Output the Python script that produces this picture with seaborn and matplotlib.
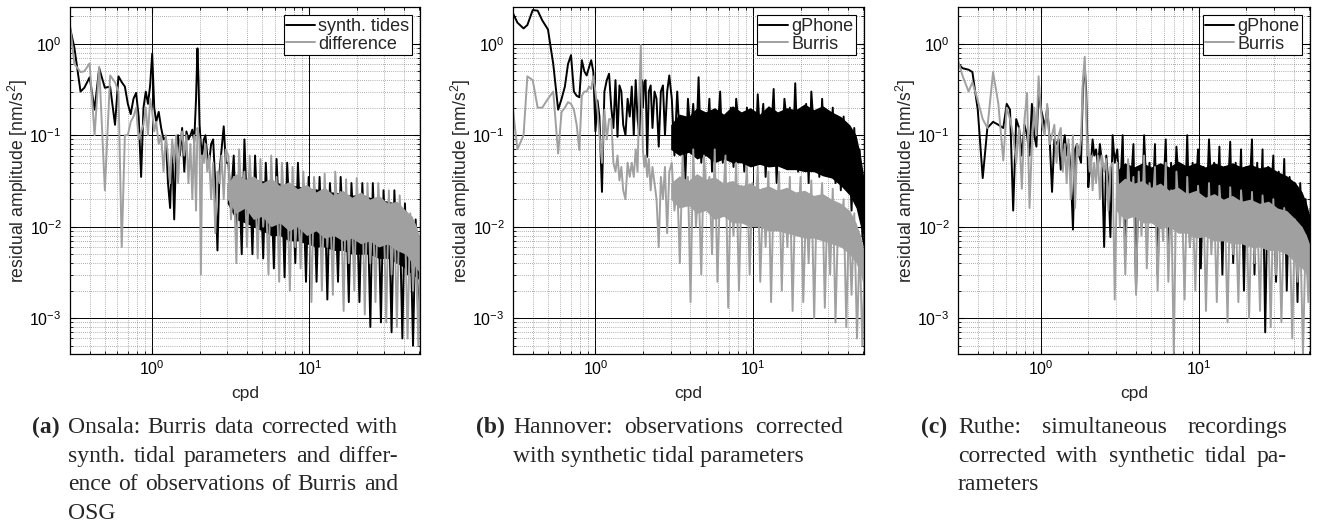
import matplotlib
matplotlib.use("Agg")
import matplotlib.pyplot as plt
import numpy as np
import pandas as pd
import seaborn as sns
from matplotlib.ticker import LogLocator, NullFormatter

# frequency bins [cpd], sparse part and dense part
freq_low = [0.30, 0.32, 0.35, 0.37, 0.40, 0.43, 0.46, 0.50, 0.54, 0.58,
            0.61, 0.64, 0.67, 0.70, 0.73, 0.76, 0.79, 0.82, 0.85, 0.88,
            0.91, 0.94, 0.97, 1.00, 1.03, 1.06, 1.10, 1.14, 1.18, 1.22,
            1.26, 1.30, 1.34, 1.38, 1.42, 1.46, 1.50, 1.55, 1.60, 1.65,
            1.70, 1.75, 1.80, 1.85, 1.90, 1.94, 1.97, 2.00, 2.04, 2.08,
            2.13, 2.18, 2.24, 2.30, 2.37, 2.44, 2.52, 2.60, 2.68, 2.76,
            2.85, 2.94]
freq_high = [3.05, 3.17, 3.30, 3.43, 3.57, 3.71, 3.86, 4.01, 4.17, 4.34,
             4.51, 4.69, 4.88, 5.08, 5.28, 5.49, 5.71, 5.94, 6.18, 6.42,
             6.68, 6.95, 7.22, 7.51, 7.81, 8.13, 8.45, 8.79, 9.14, 9.51,
             9.89, 10.3, 10.7, 11.1, 11.6, 12.0, 12.5, 13.0, 13.5, 14.1,
             14.6, 15.2, 15.8, 16.5, 17.1, 17.8, 18.5, 19.3, 20.0, 20.8,
             21.7, 22.5, 23.4, 24.4, 25.3, 26.3, 27.4, 28.5, 29.6, 30.8,
             32.0, 33.3, 34.7, 36.0, 37.5, 39.0, 40.5, 42.1, 43.8, 45.6,
             47.4, 49.3, 51.0]
freq = freq_low + freq_high

# (a) Onsala  [nm/s^2]
onsala_tides = [1.5, 0.9, 0.30, 0.33, 0.43, 0.19, 0.54, 0.33, 0.34, 0.13,
                0.44, 0.38, 0.34, 0.22, 0.17, 0.25, 0.29, 0.16, 0.035, 0.2,
                0.3, 0.22, 0.35, 0.78, 0.2, 0.14, 0.18, 0.12, 0.09, 0.095,
                0.03, 0.016, 0.08, 0.012, 0.07, 0.1, 0.06, 0.12, 0.04, 0.11,
                0.09, 0.1, 0.115, 0.085, 0.25, 0.89, 0.4, 0.13, 0.08, 0.06,
                0.09, 0.1, 0.06, 0.05, 0.08, 0.09, 0.03, 0.0055, 0.04, 0.07,
                0.125, 0.05] + \
               [0.05, 0.02, 0.06, 0.008, 0.035, 0.005, 0.09, 0.015, 0.04, 0.005,
                0.06, 0.012, 0.035, 0.0045, 0.05, 0.01, 0.03, 0.0035, 0.055, 0.012,
                0.03, 0.0028, 0.05, 0.01, 0.028, 0.004, 0.05, 0.009, 0.025, 0.0025,
                0.035, 0.008, 0.022, 0.0025, 0.035, 0.007, 0.022, 0.0016, 0.03, 0.008,
                0.02, 0.0025, 0.035, 0.007, 0.02, 0.0015, 0.03, 0.007, 0.02, 0.0015,
                0.03, 0.006, 0.02, 0.0008, 0.03, 0.005, 0.018, 0.0009, 0.025, 0.005,
                0.016, 0.0007, 0.025, 0.004, 0.014, 0.0006, 0.018, 0.003, 0.011, 0.0005,
                0.012, 0.0009, 0.004]
onsala_diff = [1.6, 0.6, 0.49, 0.5, 0.61, 0.1, 0.56, 0.025, 0.45, 0.38,
               0.3, 0.006, 0.1, 0.1, 0.14, 0.16, 0.2, 0.09, 0.11, 0.13,
               0.2, 0.1, 0.25, 0.18, 0.11, 0.14, 0.08, 0.1, 0.04, 0.1,
               0.06, 0.03, 0.09, 0.05, 0.1, 0.03, 0.08, 0.11, 0.06, 0.1,
               0.03, 0.08, 0.02, 0.1, 0.015, 0.12, 0.1, 0.09, 0.003, 0.06,
               0.05, 0.08, 0.04, 0.06, 0.02, 0.05, 0.0085, 0.04, 0.03, 0.06,
               0.02, 0.07] + \
              [0.06, 0.012, 0.035, 0.004, 0.07, 0.02, 0.04, 0.006, 0.06, 0.015,
               0.03, 0.0045, 0.055, 0.01, 0.025, 0.003, 0.06, 0.012, 0.035, 0.0025,
               0.05, 0.015, 0.028, 0.002, 0.045, 0.006, 0.022, 0.0035, 0.04, 0.01,
               0.026, 0.0015, 0.035, 0.012, 0.02, 0.002, 0.038, 0.006, 0.022, 0.0018,
               0.04, 0.01, 0.024, 0.0012, 0.033, 0.004, 0.019, 0.002, 0.034, 0.009,
               0.02, 0.0011, 0.03, 0.004, 0.018, 0.0015, 0.03, 0.008, 0.017, 0.0009,
               0.025, 0.003, 0.014, 0.0008, 0.022, 0.006, 0.012, 0.0006, 0.014, 0.002,
               0.009, 0.0005, 0.008]

# (b) Hannover
hannover_gphone = [2.15, 1.7, 1.47, 1.6, 2.33, 2.3, 1.8, 1.43, 0.6, 0.19,
                   0.25, 0.34, 0.6, 0.75, 0.3, 0.27, 0.26, 0.66, 0.5, 0.45,
                   0.55, 0.66, 0.49, 0.11, 0.24, 0.16, 0.024, 0.3, 0.4, 0.47,
                   0.2, 0.12, 0.4, 0.096, 0.35, 0.3, 0.13, 0.1, 0.25, 0.16,
                   0.34, 0.1, 0.4, 0.15, 0.1, 0.35, 0.4, 0.2, 0.38, 0.4,
                   0.058, 0.3, 0.35, 0.12, 0.3, 0.25, 0.075, 0.3, 0.35, 0.1,
                   0.3, 0.45] + \
                  [0.25, 0.06, 0.3, 0.09, 0.14, 0.03, 0.25, 0.1, 0.22, 0.06,
                   0.43, 0.05, 0.13, 0.08, 0.25, 0.04, 0.18, 0.1, 0.3, 0.05,
                   0.14, 0.07, 0.2, 0.045, 0.25, 0.12, 0.16, 0.04, 0.2, 0.06,
                   0.13, 0.05, 0.28, 0.09, 0.22, 0.035, 0.15, 0.1, 0.32, 0.03,
                   0.17, 0.06, 0.25, 0.12, 0.2, 0.05, 0.37, 0.04, 0.14, 0.08,
                   0.22, 0.03, 0.3, 0.1, 0.16, 0.035, 0.25, 0.045, 0.14, 0.07,
                   0.2, 0.03, 0.12, 0.025, 0.16, 0.04, 0.1, 0.015, 0.12, 0.03,
                   0.07, 0.008, 0.006]
hannover_burris = [0.19, 0.07, 0.1, 0.44, 0.4, 0.2, 0.2, 0.25, 0.3, 0.063,
                   0.18, 0.2, 0.23, 0.22, 0.19, 0.13, 0.069, 0.27, 0.3, 0.3,
                   0.34, 0.32, 0.44, 0.3, 0.19, 0.1, 0.05, 0.19, 0.09, 0.15,
                   0.15, 0.05, 0.04, 0.06, 0.032, 0.045, 0.025, 0.02, 0.05, 0.035,
                   0.05, 0.035, 0.07, 0.04, 0.3, 0.97, 0.2, 0.07, 0.045, 0.06,
                   0.035, 0.055, 0.025, 0.045, 0.03, 0.02, 0.006, 0.035, 0.02, 0.045,
                   0.0085, 0.04] + \
                  [0.05, 0.015, 0.03, 0.004, 0.06, 0.018, 0.035, 0.0015, 0.07, 0.01,
                   0.03, 0.003, 0.06, 0.02, 0.035, 0.005, 0.07, 0.0025, 0.03, 0.015,
                   0.06, 0.0013, 0.03, 0.008, 0.05, 0.002, 0.028, 0.014, 0.045, 0.003,
                   0.03, 0.012, 0.045, 0.0025, 0.026, 0.006, 0.04, 0.0015, 0.024, 0.011,
                   0.04, 0.002, 0.025, 0.006, 0.035, 0.0012, 0.022, 0.01, 0.035, 0.0015,
                   0.02, 0.004, 0.032, 0.001, 0.02, 0.009, 0.03, 0.0013, 0.018, 0.003,
                   0.026, 0.0009, 0.015, 0.007, 0.02, 0.0008, 0.012, 0.0018, 0.014, 0.0006,
                   0.007, 0.0005, 0.004]

# (c) Ruthe
ruthe_gphone = [0.61, 0.54, 0.52, 0.49, 0.19, 0.034, 0.12, 0.14, 0.13, 0.12,
                0.22, 0.19, 0.015, 0.15, 0.12, 0.06, 0.13, 0.1, 0.06, 0.22,
                0.1, 0.075, 0.31, 0.2, 0.16, 0.12, 0.2, 0.09, 0.024, 0.09,
                0.08, 0.09, 0.042, 0.07, 0.1, 0.06, 0.08, 0.04, 0.0093, 0.07,
                0.08, 0.06, 0.05, 0.34, 0.56, 0.3, 0.1, 0.027, 0.04, 0.05,
                0.09, 0.06, 0.07, 0.045, 0.08, 0.05, 0.006, 0.06, 0.03, 0.0077,
                0.1, 0.05] + \
               [0.07, 0.02, 0.1, 0.005, 0.05, 0.025, 0.08, 0.002, 0.045, 0.01,
                0.1, 0.02, 0.05, 0.012, 0.08, 0.003, 0.045, 0.02, 0.09, 0.005,
                0.05, 0.012, 0.075, 0.025, 0.045, 0.01, 0.1, 0.006, 0.05, 0.02,
                0.07, 0.0035, 0.045, 0.01, 0.09, 0.025, 0.05, 0.012, 0.075, 0.003,
                0.045, 0.02, 0.085, 0.004, 0.05, 0.01, 0.07, 0.002, 0.045, 0.02,
                0.09, 0.003, 0.05, 0.009, 0.07, 0.0007, 0.045, 0.018, 0.06, 0.0025,
                0.04, 0.007, 0.055, 0.002, 0.035, 0.012, 0.03, 0.0015, 0.03, 0.005,
                0.02, 0.003, 0.016]
ruthe_burris = [0.66, 0.45, 0.3, 0.38, 0.24, 0.15, 0.12, 0.49, 0.22, 0.053,
                0.2, 0.15, 0.1, 0.05, 0.12, 0.026, 0.15, 0.29, 0.016, 0.08,
                0.2, 0.1, 0.44, 0.2, 0.12, 0.1, 0.22, 0.08, 0.1, 0.13,
                0.05, 0.1, 0.12, 0.04, 0.08, 0.03, 0.09, 0.02, 0.1, 0.016,
                0.08, 0.06, 0.09, 0.4, 0.72, 0.2, 0.06, 0.08, 0.04, 0.06,
                0.025, 0.05, 0.03, 0.06, 0.02, 0.06, 0.04, 0.055, 0.015, 0.045,
                0.05, 0.0016] + \
               [0.05, 0.01, 0.03, 0.003, 0.055, 0.015, 0.035, 0.0018, 0.04, 0.008,
                0.06, 0.0035, 0.03, 0.014, 0.045, 0.002, 0.026, 0.007, 0.05, 0.0025,
                0.025, 0.0004, 0.04, 0.012, 0.022, 0.0016, 0.035, 0.006, 0.02, 0.002,
                0.028, 0.01, 0.02, 0.0012, 0.03, 0.005, 0.018, 0.0015, 0.028, 0.009,
                0.017, 0.0009, 0.027, 0.005, 0.016, 0.0015, 0.025, 0.009, 0.016, 0.001,
                0.024, 0.004, 0.015, 0.0012, 0.022, 0.008, 0.014, 0.0008, 0.02, 0.003,
                0.013, 0.0009, 0.016, 0.006, 0.011, 0.0006, 0.012, 0.0025, 0.009, 0.0004,
                0.008, 0.0015, 0.005]

# solid core of the dense high-frequency part (upper / lower edge)
freq_core = [3.0, 3.4, 3.9, 4.4, 5.0, 5.7, 6.5, 7.4, 8.4, 9.6,
             11.0, 12.5, 14.3, 16.3, 18.6, 21.2, 24.2, 27.6, 31.5, 36.0,
             41.0, 45.0, 48.0, 51.0]
onsala_tides_core = (
    [0.03, 0.036, 0.034, 0.033, 0.032, 0.03, 0.03, 0.028, 0.028, 0.026,
     0.026, 0.024, 0.024, 0.023, 0.022, 0.023, 0.021, 0.02, 0.019, 0.018,
     0.015, 0.012, 0.009, 0.006],
    [0.018, 0.012, 0.011, 0.01, 0.009, 0.008, 0.008, 0.007, 0.007, 0.0065,
     0.006, 0.006, 0.0055, 0.0055, 0.005, 0.005, 0.005, 0.0045, 0.0045, 0.004,
     0.0035, 0.003, 0.0028, 0.0025])
onsala_diff_core = (
    [0.03, 0.038, 0.033, 0.036, 0.03, 0.034, 0.028, 0.031, 0.026, 0.029,
     0.024, 0.027, 0.022, 0.025, 0.021, 0.024, 0.02, 0.022, 0.018, 0.019,
     0.015, 0.013, 0.01, 0.007],
    [0.02, 0.014, 0.016, 0.012, 0.013, 0.01, 0.011, 0.009, 0.01, 0.008,
     0.009, 0.0075, 0.008, 0.007, 0.0075, 0.0065, 0.007, 0.006, 0.0065, 0.0055,
     0.005, 0.004, 0.0035, 0.003])
hannover_gphone_core = (
    [0.13, 0.17, 0.16, 0.2, 0.18, 0.2, 0.17, 0.21, 0.18, 0.2,
     0.17, 0.21, 0.18, 0.2, 0.19, 0.22, 0.19, 0.21, 0.18, 0.16,
     0.13, 0.1, 0.06, 0.03],
    [0.07, 0.06, 0.065, 0.055, 0.06, 0.05, 0.055, 0.05, 0.05, 0.045,
     0.048, 0.045, 0.046, 0.042, 0.042, 0.04, 0.04, 0.036, 0.034, 0.028,
     0.022, 0.016, 0.01, 0.007])
hannover_burris_core = (
    [0.03, 0.036, 0.032, 0.038, 0.033, 0.035, 0.03, 0.032, 0.028, 0.03,
     0.026, 0.028, 0.025, 0.027, 0.024, 0.025, 0.022, 0.023, 0.02, 0.018,
     0.015, 0.011, 0.008, 0.005],
    [0.02, 0.016, 0.017, 0.014, 0.015, 0.012, 0.013, 0.011, 0.011, 0.01,
     0.01, 0.009, 0.009, 0.0085, 0.008, 0.0075, 0.0075, 0.007, 0.0065, 0.006,
     0.005, 0.004, 0.003, 0.002])
ruthe_gphone_core = (
    [0.04, 0.05, 0.045, 0.05, 0.045, 0.05, 0.045, 0.052, 0.046, 0.05,
     0.045, 0.05, 0.046, 0.05, 0.045, 0.048, 0.044, 0.046, 0.04, 0.036,
     0.03, 0.024, 0.018, 0.012],
    [0.025, 0.022, 0.02, 0.019, 0.018, 0.018, 0.017, 0.017, 0.016, 0.016,
     0.015, 0.015, 0.014, 0.014, 0.013, 0.013, 0.012, 0.012, 0.011, 0.01,
     0.009, 0.008, 0.006, 0.005])
ruthe_burris_core = (
    [0.028, 0.034, 0.03, 0.032, 0.027, 0.03, 0.025, 0.027, 0.023, 0.025,
     0.021, 0.023, 0.02, 0.022, 0.019, 0.02, 0.018, 0.019, 0.016, 0.015,
     0.012, 0.01, 0.008, 0.006],
    [0.015, 0.012, 0.013, 0.011, 0.011, 0.0095, 0.01, 0.0085, 0.0085, 0.0075,
     0.0078, 0.007, 0.007, 0.0065, 0.0065, 0.006, 0.006, 0.0055, 0.0055, 0.005,
     0.004, 0.0035, 0.003, 0.0025])

captions = [
    ("(a)", ["Onsala: Burris data corrected with",
             "synth. tidal parameters and differ-",
             "ence of observations of Burris and",
             "OSG"]),
    ("(b)", ["Hannover: observations corrected",
             "with synthetic tidal parameters"]),
    ("(c)", ["Ruthe: simultaneous recordings",
             "corrected with synthetic tidal pa-",
             "rameters"]),
]

BLACK = "#000000"
GREY = "#a0a0a0"
W, H = 1317, 527

sns.set_style("ticks")
plt.rcParams["font.family"] = ["Liberation Sans", "DejaVu Sans"]
plt.rcParams["mathtext.default"] = "regular"

fig = plt.figure(figsize=(W / 100, H / 100), dpi=100)

panels = [
    (70, 420, "synth. tides", onsala_tides, onsala_tides_core,
     "difference", onsala_diff, onsala_diff_core),
    (513, 864, "gPhone", hannover_gphone, hannover_gphone_core,
     "Burris", hannover_burris, hannover_burris_core),
    (958, 1310, "gPhone", ruthe_gphone, ruthe_gphone_core,
     "Burris", ruthe_burris, ruthe_burris_core),
]

for left, right, lab1, s1, c1, lab2, s2, c2 in panels:
    ax = fig.add_axes([left / W, 1 - 354 / H, (right - left) / W, (354 - 7) / H])
    df = pd.DataFrame({"cpd": freq + freq,
                       "amp": s1 + s2,
                       "series": [lab1] * len(freq) + [lab2] * len(freq)})
    sns.lineplot(data=df, x="cpd", y="amp", hue="series", palette=[BLACK, GREY],
                 estimator=None, sort=False, lw=1.4, ax=ax)
    ax.lines[0].set_zorder(2.0)
    ax.lines[1].set_zorder(2.2)
    ax.fill_between(freq_core, c1[1], c1[0], color=BLACK, lw=0, zorder=1.9)
    ax.fill_between(freq_core, c2[1], c2[0], color=GREY, lw=0, zorder=2.1)
    ax.set_xscale("log")
    ax.set_yscale("log")
    ax.set_xlim(0.3, 50.5)
    ax.set_ylim(4.06e-4, 2.52)
    ax.xaxis.set_major_locator(LogLocator(base=10, numticks=20))
    ax.yaxis.set_major_locator(LogLocator(base=10, numticks=20))
    for a in (ax.xaxis, ax.yaxis):
        a.set_minor_locator(LogLocator(base=10, subs=np.arange(2, 10), numticks=50))
        a.set_minor_formatter(NullFormatter())
    ax.grid(which="major", color="black", ls="-", lw=0.7)
    ax.grid(which="minor", color="#666666", ls=(0, (1, 2)), lw=0.5)
    ax.set_axisbelow(True)
    for sp in ax.spines.values():
        sp.set_color("black")
        sp.set_linewidth(0.9)
    ax.tick_params(which="both", direction="in", top=True, right=True,
                   labelsize=11.5, colors="black")
    ax.tick_params(axis="y", pad=6)
    ax.tick_params(which="major", length=4)
    ax.tick_params(which="minor", length=2)
    ax.set_xlabel("cpd", fontsize=12.5)
    ax.set_ylabel("residual amplitude [nm/s$^2$]", fontsize=12.7)
    ax.xaxis.set_label_coords(0.5, -0.093)
    ax.yaxis.set_label_coords(-0.115, 0.5)
    h, l = ax.get_legend_handles_labels()
    leg = ax.legend(h, l, loc="upper right", frameon=True, fancybox=False,
                    edgecolor="black", framealpha=1, fontsize=13,
                    handlelength=1.6, handletextpad=0.15, borderpad=0.15,
                    labelspacing=0.05, borderaxespad=0.45)
    leg.get_frame().set_linewidth(0.8)

# sub-figure captions, justified like the LaTeX original
renderer = fig.canvas.get_renderer()
serif = dict(family=["Liberation Serif", "DejaVu Serif"], fontsize=17)
cap_pos = [(32, 68, 398), (476, 513, 843), (921, 958, 1287)]
for (tag, lines), (x_tag, x0, x1) in zip(captions, cap_pos):
    fig.text(x_tag / W, 1 - 433 / H, tag, fontweight="bold", **serif)
    for i, line in enumerate(lines):
        yb = 1 - (433 + i * 28.7) / H
        words = line.split()
        if i == len(lines) - 1:
            fig.text(x0 / W, yb, line, **serif)
            continue
        texts = [fig.text(0, yb, w, **serif) for w in words]
        widths = [t.get_window_extent(renderer).width for t in texts]
        gap = (x1 - x0 - sum(widths)) / (len(words) - 1)
        x = x0
        for t, w in zip(texts, widths):
            t.set_x(x / W)
            x += w + gap

fig.savefig("out.png", dpi=100)
